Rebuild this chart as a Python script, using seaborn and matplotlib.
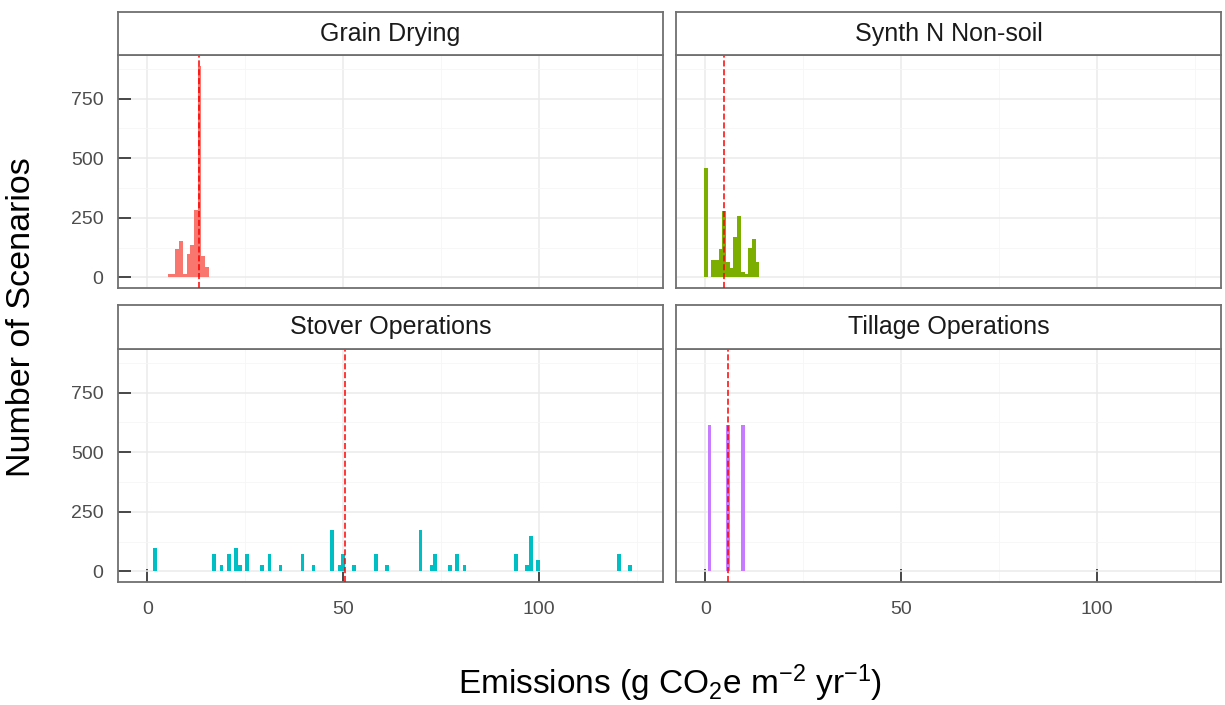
import numpy as np
import pandas as pd
import matplotlib
matplotlib.use("Agg")
import matplotlib.pyplot as plt
import seaborn as sns

# Histogram bin layout shared by all facets (g CO2e m-2 yr-1)
bin_width = 0.94
bin_origin = -0.35
bin_count = 134

# Bin centres and scenario counts for each emission source
grain_emissions = [5.76, 6.70, 7.64, 8.58, 9.52, 10.46, 11.40, 12.34, 13.28, 14.22, 15.16]
grain_counts = [15, 15, 121, 153, 15, 98, 137, 282, 889, 90, 42]

synth_emissions = [0.12, 2.00, 2.94, 3.88, 4.82, 5.76, 6.70, 7.64, 8.58, 9.52,
                   10.46, 11.40, 12.34, 13.28]
synth_counts = [458, 75, 75, 120, 280, 66, 40, 170, 258, 22, 16, 122, 162, 65]

stover_emissions = [2.00, 17.04, 18.92, 20.80, 22.68, 23.62, 25.50, 29.26, 31.14, 33.96,
                    39.60, 42.42, 47.12, 49.00, 49.94, 52.76, 58.40, 61.22, 69.68, 72.50,
                    73.44, 77.20, 79.08, 80.96, 94.12, 96.94, 97.88, 99.76, 120.44, 123.26]
stover_counts = [99, 73, 25, 73, 99, 25, 73, 25, 73, 25,
                 73, 25, 172, 25, 73, 25, 73, 25, 172, 25,
                 73, 25, 73, 25, 73, 25, 148, 49, 73, 25]

tillage_emissions = [1.06, 5.76, 9.52]
tillage_counts = [615, 615, 615]

# Facet titles, fills and the dashed reference value of each source
facet_titles = ["Grain Drying", "Synth N Non-soil", "Stover Operations", "Tillage Operations"]
facet_colors = ["#F8766D", "#7CAE00", "#00BFC4", "#C77CFF"]
facet_means = [13.1, 4.8, 50.4, 5.8]

x_ticks = [0, 50, 100]
y_ticks = [0, 250, 500, 750]

facet_data = [
    (grain_emissions, grain_counts),
    (synth_emissions, synth_counts),
    (stover_emissions, stover_counts),
    (tillage_emissions, tillage_counts),
]

sns.set_style("white")
plt.rcParams["font.family"] = ["Liberation Sans", "DejaVu Sans"]
plt.rcParams["mathtext.fontset"] = "custom"
plt.rcParams["mathtext.rm"] = "Liberation Sans"
plt.rcParams["mathtext.it"] = "Liberation Sans:italic"
plt.rcParams["mathtext.default"] = "regular"

W, H = 1225, 705
fig = plt.figure(figsize=(W / 100, H / 100), dpi=100)
fig.patch.set_facecolor("white")


def box(x0, y0, x1, y1):
    return [x0 / W, 1 - y1 / H, (x1 - x0) / W, (y1 - y0) / H]


col_span = [(118, 663), (676, 1221)]
row_plot = [(55, 288), (349, 582)]
row_strip = [(12, 55), (305, 349)]

bin_range = (bin_origin, bin_origin + bin_width * bin_count)
y_max = max(max(c) for _, c in facet_data)
y_lim = (-0.05 * y_max, 1.05 * y_max)

border = "#707070"

for i, ((vals, counts), title, color, mean) in enumerate(
        zip(facet_data, facet_titles, facet_colors, facet_means)):
    r, c = divmod(i, 2)
    x0, x1 = col_span[c]
    df = pd.DataFrame({"emissions": vals, "scenarios": counts})
    ax = fig.add_axes(box(x0, row_plot[r][0], x1, row_plot[r][1]))
    sns.histplot(data=df, x="emissions", weights="scenarios",
                 binwidth=bin_width, binrange=bin_range,
                 color=color, alpha=1, linewidth=0, ax=ax)
    ax.axvline(mean, color="#FF0000", lw=1.1, ls=(0, (4, 1.8)), zorder=5)

    ax.set_xlim(-7.5, 131.6)
    ax.set_ylim(*y_lim)
    ax.set_xticks(x_ticks)
    ax.set_xticks([25, 75, 125], minor=True)
    ax.set_yticks(y_ticks)
    ax.set_yticks([125, 375, 625, 875], minor=True)
    ax.grid(which="major", color="#EBEBEB", lw=1.1)
    ax.grid(which="minor", color="#F6F6F6", lw=0.6)
    ax.set_axisbelow(True)
    ax.set_xlabel("")
    ax.set_ylabel("")
    for sp in ax.spines.values():
        sp.set_color(border)
        sp.set_linewidth(1.3)

    # inward tick marks on the outer facets only
    ax.tick_params(which="major", direction="in", length=9.2, width=1.1,
                   color="#1A1A1A", labelsize=14, labelcolor="#4D4D4D", pad=10.5,
                   left=(c == 0), labelleft=(c == 0),
                   bottom=(r == 1), labelbottom=(r == 1),
                   top=False, right=False)
    ax.tick_params(which="minor", length=0)
    if r == 1:
        ax.tick_params(axis="x", pad=14)

    sax = fig.add_axes(box(x0, row_strip[r][0], x1, row_strip[r][1]))
    sax.set_facecolor("white")
    sax.set_xticks([])
    sax.set_yticks([])
    for sp in sax.spines.values():
        sp.set_color(border)
        sp.set_linewidth(1.3)
    sax.text(0.5, 0.5, title, ha="center", va="center", fontsize=18,
             color="#1A1A1A", transform=sax.transAxes)

fig.text(22 / W, 1 - 317 / H, "Number of Scenarios", rotation=90,
         ha="center", va="center", fontsize=24.5, color="black")
fig.text(670 / W, 1 - 683 / H, r"Emissions (g CO$_2$e m$^{-2}$ yr$^{-1}$)",
         ha="center", va="center", fontsize=24, color="black")

fig.savefig("out.png", dpi=100, facecolor="white")
